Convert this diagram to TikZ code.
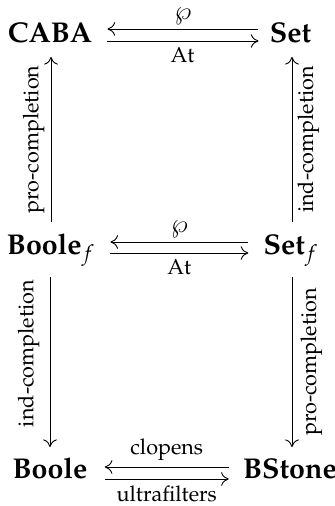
\documentclass[tikz,border=0pt]{standalone}
\usepackage[T1]{fontenc}
\usepackage{mathpazo}
\usetikzlibrary{arrows.meta,calc}
\begin{document}
\begin{tikzpicture}[x=0.5pt,y=-0.5pt,
  obj/.style={inner sep=0pt, anchor=base, font=\fontsize{14.3}{16}\selectfont\bfseries},
  lab/.style={inner sep=0pt, font=\fontsize{10.8}{12}\selectfont},
  wplab/.style={inner sep=0pt, text height=0.55em, font=\fontsize{12.5}{15}\selectfont},
  arr/.style={-{Computer Modern Rightarrow[length=3.8pt,width=6.8pt]}, line width=0.45pt}]
\useasboundingbox (0,0) rectangle (335,506);
% objects
\node[obj] (caba) at (50,43) {CABA};
\node[obj] (set) at (290.5,43) {Set};
\node[obj] (boolef) at (51,255) {Boole$_f$};
\node[obj] (setf) at (291,255) {Set$_f$};
\node[obj] (boole) at (50,478) {Boole};
\node[obj] (bstone) at (290,478) {BStone};
% top row
\draw[arr] ($(set.base west)+(-11,-14)$) -- ($(caba.base east)+(15,-14)$)
  node[wplab, midway, above=2.2pt] {$\wp$};
\draw[arr] ($(caba.base east)+(14,-2)$) -- ($(set.base west)+(-11,-2)$)
  node[lab, midway, below=3pt] {At};
% middle row
\draw[arr] ($(setf.base west)+(-15,-13)$) -- ($(boolef.base east)+(15,-13)$)
  node[wplab, midway, above=2.2pt] {$\wp$};
\draw[arr] ($(boolef.base east)+(15,-2)$) -- ($(setf.base west)+(-15,-2)$)
  node[lab, midway, below=3pt] {At};
% bottom row
\draw[arr] ($(bstone.base west)+(-14,-11)$) -- ($(boole.base east)+(17,-11)$)
  node[lab, midway, above=3pt] {clopens};
\draw[arr] ($(boole.base east)+(17,1)$) -- ($(bstone.base west)+(-14,1)$)
  node[lab, midway, below=3pt] {ultrafilters};
% verticals
\draw[arr] ($(boolef.base)+(0,-33)$) -- ($(caba.base)+(1,14)$)
  node[lab, midway, rotate=90, anchor=south, inner sep=3pt] {pro-completion};
\draw[arr] ($(setf.base)+(1,-33)$) -- ($(set.base)+(1.5,14)$)
  node[lab, midway, rotate=90, anchor=north, inner sep=2.5pt] {ind-completion};
\draw[arr] ($(boolef.base)+(-1,22)$) -- ($(boole.base)+(0,-31)$)
  node[lab, pos=0.45, rotate=90, anchor=south, inner sep=5pt] {ind-completion};
\draw[arr] ($(setf.base)+(1,22)$) -- ($(bstone.base)+(2,-31)$)
  node[lab, pos=0.5, rotate=90, anchor=north, inner sep=4pt] {pro-completion};
\end{tikzpicture}
\end{document}
